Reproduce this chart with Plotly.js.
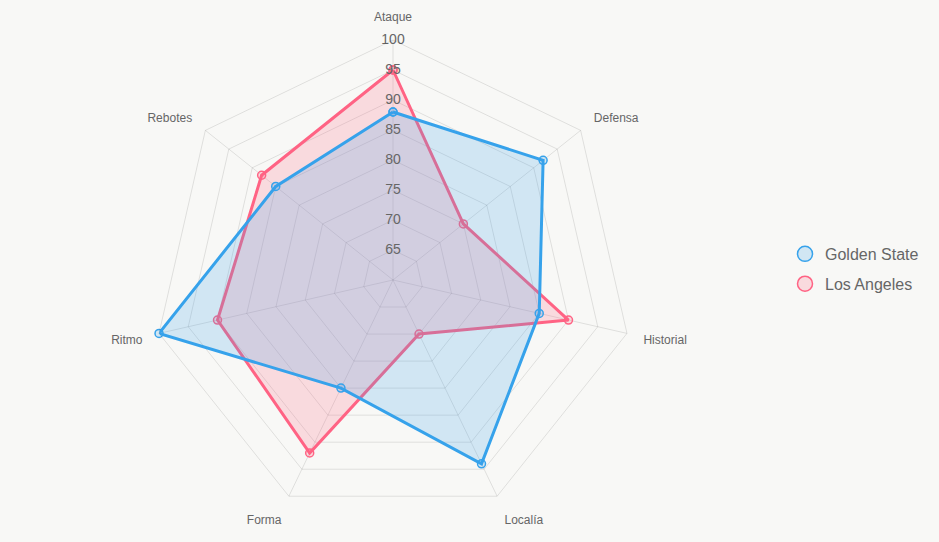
<!DOCTYPE html>
<html>
<head>
<meta charset="utf-8">
<script src="https://cdn.plot.ly/plotly-3.0.1.min.js"></script>
<style>
html,body{margin:0;padding:0;background:#f8f8f6;}
#chart{width:939px;height:542px;}
</style>
</head>
<body>
<div id="chart"></div>
<script>
const categories = ["Ataque", "Defensa", "Historial", "Localía", "Forma", "Ritmo", "Rebotes"];
const goldenState = [88, 92, 85, 94, 80, 100, 85];
const losAngeles = [95, 75, 90, 70, 92, 90, 88];
const seriesNames = ["Golden State", "Los Angeles"];
const tickValues = [65, 70, 75, 80, 85, 90, 95, 100];

const blue = "rgb(54,162,235)";
const blueFill = "rgba(54,162,235,0.2)";
const pink = "rgb(255,99,132)";
const pinkFill = "rgba(255,99,132,0.2)";
const gridColor = "rgba(0,0,0,0.1)";
const textColor = "#666";
const fontFamily = "Helvetica Neue, Helvetica, Arial, sans-serif";

function closed(arr) { return arr.concat([arr[0]]); }

function series(name, values, color, fill) {
  return {
    type: "scatterpolar",
    name: name,
    r: closed(values),
    theta: closed(categories),
    mode: "lines+markers",
    fill: "toself",
    fillcolor: fill,
    line: {color: color, width: 3},
    marker: {size: 8, color: fill, line: {color: color, width: 1.5}},
    showlegend: false,
    hoverinfo: "r+theta+name"
  };
}

function legendItem(name, color, fill) {
  return {
    type: "scatterpolar",
    name: name,
    legendgroup: name,
    r: [null],
    theta: [categories[0]],
    mode: "markers",
    marker: {size: 15, color: fill, line: {color: color, width: 1.5}},
    showlegend: true,
    hoverinfo: "skip"
  };
}

const tickTrace = {
  type: "scatterpolar",
  r: tickValues,
  theta: tickValues.map(() => categories[0]),
  mode: "text",
  text: tickValues.map(String),
  textposition: "middle center",
  textfont: {size: 14, color: textColor, family: fontFamily},
  showlegend: false,
  hoverinfo: "skip"
};

const data = [
  series(seriesNames[1], losAngeles, pink, pinkFill),
  series(seriesNames[0], goldenState, blue, blueFill),
  tickTrace,
  legendItem(seriesNames[0], blue, blueFill),
  legendItem(seriesNames[1], pink, pinkFill)
];

const layout = {
  width: 939,
  height: 542,
  paper_bgcolor: "#f8f8f6",
  plot_bgcolor: "#f8f8f6",
  margin: {l: 0, r: 0, t: 40, b: 22},
  font: {family: fontFamily, color: textColor},
  showlegend: true,
  legend: {
    x: 0.836, y: 0.523, xanchor: "left", yanchor: "middle",
    font: {size: 16, color: textColor, family: fontFamily},
    bgcolor: "rgba(0,0,0,0)",
    traceorder: "grouped",
    tracegroupgap: 6
  },
  polar: {
    domain: {x: [153/939, 633/939], y: [0, 1]},
    bgcolor: "rgba(0,0,0,0)",
    gridshape: "linear",
    radialaxis: {
      range: [60, 100],
      tickvals: tickValues,
      showticklabels: false,
      ticks: "",
      showline: false,
      gridcolor: gridColor,
      gridwidth: 1,
      angle: 90
    },
    angularaxis: {
      direction: "clockwise",
      rotation: 90,
      categoryorder: "array",
      categoryarray: categories,
      tickfont: {size: 12, color: textColor, family: fontFamily},
      ticks: "outside",
      ticklen: 14,
      tickcolor: "rgba(0,0,0,0)",
      showline: true,
      linecolor: gridColor,
      linewidth: 1,
      gridcolor: gridColor,
      gridwidth: 1
    }
  }
};

Plotly.newPlot("chart", data, layout, {displayModeBar: false, responsive: false});
</script>
</body>
</html>
